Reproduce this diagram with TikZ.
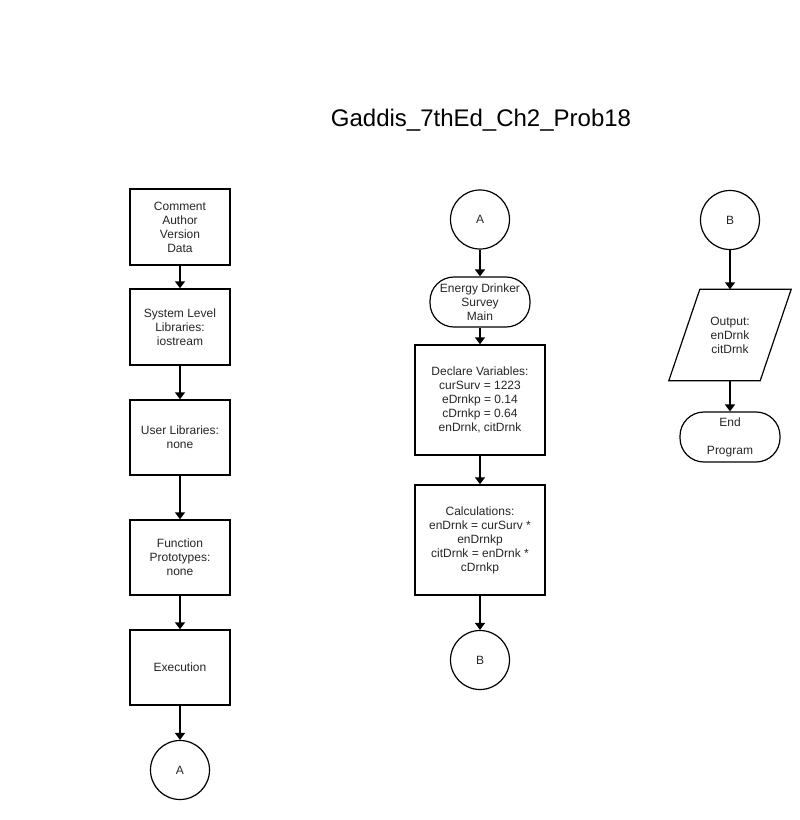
\documentclass[tikz,border=0pt]{standalone}
\usepackage{fontspec}
\setmainfont{Liberation Sans}
\usetikzlibrary{arrows.meta}
\colorlet{FlowLine}{black}
\colorlet{FlowText}{black!85}
\tikzset{
    flow box/.style={draw=FlowLine, line width=1.5pt, minimum width=100pt,
        minimum height=76pt, align=center, inner sep=0pt, text=FlowText},
    page link/.style={draw=FlowLine, line width=1.2pt, circle, minimum size=59pt,
        inner sep=0pt, text=FlowText},
    terminal/.style={draw=FlowLine, line width=1.2pt, rounded corners=24pt,
        minimum width=100pt, minimum height=50pt, align=center, inner sep=0pt,
        text=FlowText},
    io box/.style={minimum width=91pt, minimum height=91pt, align=center,
        inner sep=0pt, text=FlowText},
    io line/.style={draw=FlowLine, line width=1.2pt},
    flow link/.style={draw=FlowLine, line width=1.5pt,
        -{Triangle[width=10pt,length=7pt]}}
}

\begin{document}
\begin{tikzpicture}[x=1pt, y=-1pt, font=\fontsize{12}{14}\selectfont]

\useasboundingbox[fill=white] (0,0) rectangle (800,820);

\node (title) at (481,120) {\fontsize{24}{28}\selectfont Gaddis\_7thEd\_Ch2\_Prob18};

% Columna izquierda
\node[flow box] (cmt) at (180,227) {Comment\\Author\\Version\\Data};
\node[flow box] (sysLib) at (180,327) {System Level\\Libraries:\\iostream};
\node[flow box, minimum height=75pt] (usrLib) at (180,437.5) {User Libraries:\\none};
\node[flow box, minimum height=75pt] (proto) at (180,557.5) {Function\\Prototypes:\\none};
\node[flow box, minimum height=75pt] (exec) at (180,667.5) {Execution};
\node[page link] (offA) at (180,770) {A};

% Columna central
\node[page link] (onA) at (480,219.5) {A};
\node[terminal] (mainT) at (480,302) {Energy Drinker\\Survey\\Main};
\node[flow box, minimum width=130pt, minimum height=110pt] (decl) at (480,400)
    {Declare Variables:\\curSurv = 1223\\eDrnkp = 0.14\\cDrnkp = 0.64\\enDrnk, citDrnk};
\node[flow box, minimum width=130pt, minimum height=110pt] (calc) at (480,540)
    {Calculations:\\enDrnk = curSurv *\\enDrnkp\\citDrnk = enDrnk *\\cDrnkp};
\node[page link] (offB) at (480,660) {B};

% Columna derecha
\node[page link] (onB) at (730,220) {B};
\node[io box] (output) at (730,335) {Output:\\enDrnk\\citDrnk};
\draw[io line] ([xshift=15.5pt]output.north west) -- ([xshift=15.5pt]output.north east)
    -- ([xshift=-15.5pt]output.south east) -- ([xshift=-15.5pt]output.south west) -- cycle;
\node[terminal] (endT) at (730,437) {End\\[14pt]Program};

% Conectores, dibujados al final
\foreach \from/\to in {cmt/sysLib, sysLib/usrLib, usrLib/proto, proto/exec,
    exec/offA, onA/mainT, mainT/decl, decl/calc, calc/offB, onB/output, output/endT}
    \draw[flow link] (\from) -- (\to);

\end{tikzpicture}
\end{document}
